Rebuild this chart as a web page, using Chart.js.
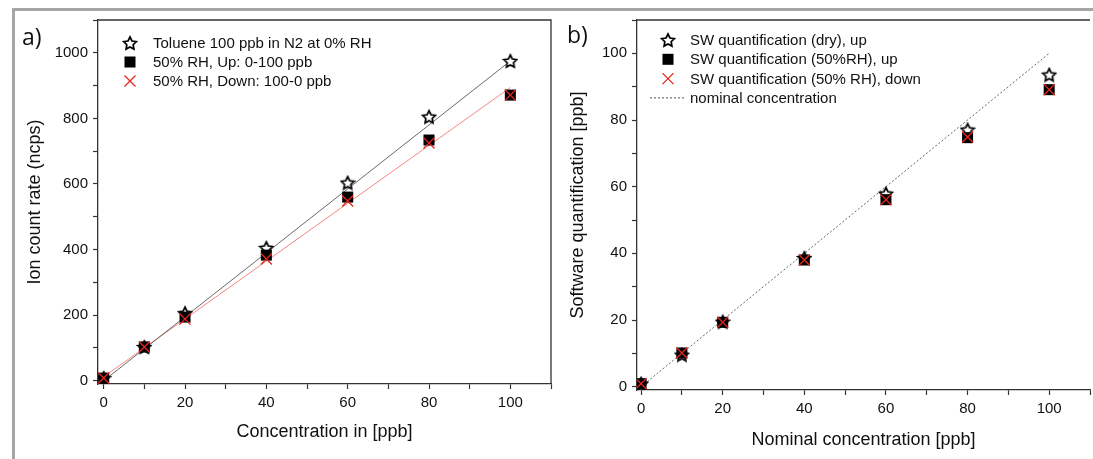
<!DOCTYPE html>
<html>
<head>
<meta charset="utf-8">
<script src="https://cdn.jsdelivr.net/npm/chart.js@4.4.1/dist/chart.umd.min.js"></script>
<style>
body { margin: 0; background: #fff; width: 1093px; height: 459px; overflow: hidden; position: relative; }
canvas { position: absolute; top: 0; }
#chartA { left: 15px; }
#chartB { left: 560px; }
.frame { position: absolute; background: #a6a6a6; }
.tag { position: absolute; font-family: "Open Sans", sans-serif; font-size: 23px; color: #111; line-height: 30px; }
</style>
</head>
<body>
<canvas id="chartA" width="545" height="459"></canvas>
<canvas id="chartB" width="535" height="459"></canvas>
<div class="frame" style="left:12px;top:8px;width:1081px;height:3px"></div>
<div class="frame" style="left:12px;top:8px;width:3px;height:451px"></div>
<div class="tag" style="left:22px;top:21px">a)</div>
<div class="tag" style="left:567px;top:19px">b)</div>
<script>
// a) ion count rate vs concentration
const conc = [0, 10, 20, 40, 60, 80, 100];
const dryRate = [8, 103, 206, 405, 604, 805, 975];
const upRate = [8, 103, 194, 383, 560, 734, 871];
const downRate = [8, 103, 188, 371, 548, 725, 871];
const fitX = [0, 100];
const dryFit = [0, 975];
const wetFit = [12, 894];

// b) software quantification vs nominal
const swDry = [0.9, 9.6, 19.5, 38.6, 57.9, 77.1, 93.6];
const swUp = [0.9, 10.1, 19.3, 38.0, 56.1, 74.7, 89.1];
const swDown = [0.9, 10.1, 19.3, 38.0, 56.1, 74.9, 89.1];
const nominalX = [0, 100];
const nominalY = [0, 100];

// tick positions (labels only on every second one)
const ticksXA = [0, 10, 20, 30, 40, 50, 60, 70, 80, 90, 100, 110];
const ticksYA = [0, 100, 200, 300, 400, 500, 600, 700, 800, 900, 1000, 1100];
const ticksXB = [0, 10, 20, 30, 40, 50, 60, 70, 80, 90, 100, 110];
const ticksYB = [0, 10, 20, 30, 40, 50, 60, 70, 80, 90, 100, 110];

const FONT = '"Liberation Sans", Arial, sans-serif';
const RED = '#e8251f';

function pts(xs, ys) {
  return xs.map((x, i) => ({ x: x, y: ys[i] }));
}

function makeStar(size) {
  const c = document.createElement('canvas');
  c.width = size; c.height = size;
  const g = c.getContext('2d');
  const r = size / 2 - 1.3, ri = r * 0.5, cx = size / 2, cy = size / 2 + 0.7;
  g.beginPath();
  for (let i = 0; i < 10; i++) {
    const a = -Math.PI / 2 + i * Math.PI / 5;
    const rr = i % 2 ? ri : r;
    g.lineTo(cx + rr * Math.cos(a), cy + rr * Math.sin(a));
  }
  g.closePath();
  g.fillStyle = '#fff';
  g.fill();
  g.lineWidth = 1.7;
  g.strokeStyle = '#000';
  g.stroke();
  return c;
}
const star = makeStar(16);

function drawSymbol(ctx, kind, x, y) {
  ctx.save();
  if (kind === 'star') {
    ctx.drawImage(star, x - 8, y - 8);
  } else if (kind === 'square') {
    ctx.fillStyle = '#000';
    ctx.fillRect(x - 5.5, y - 5.5, 11, 11);
  } else if (kind === 'cross') {
    ctx.strokeStyle = RED;
    ctx.lineWidth = 1.3;
    ctx.beginPath();
    ctx.moveTo(x - 5.5, y - 5.5); ctx.lineTo(x + 5.5, y + 5.5);
    ctx.moveTo(x + 5.5, y - 5.5); ctx.lineTo(x - 5.5, y + 5.5);
    ctx.stroke();
  } else if (kind === 'dot') {
    ctx.strokeStyle = '#555';
    ctx.lineWidth = 1;
    ctx.setLineDash([2, 2]);
    ctx.beginPath();
    ctx.moveTo(x - 18, y); ctx.lineTo(x + 16, y);
    ctx.stroke();
  }
  ctx.restore();
}

// legend inside the plot + closing the frame
const boxLegend = {
  id: 'boxLegend',
  afterDraw(chart, args, opts) {
    const ctx = chart.ctx;
    const a = chart.chartArea;
    ctx.save();
    ctx.strokeStyle = '#333';
    ctx.lineWidth = 1.3;
    ctx.beginPath();
    ctx.moveTo(a.left, a.top);
    ctx.lineTo(a.right, a.top);
    if (opts.rightEdge) ctx.lineTo(a.right, a.bottom);
    ctx.stroke();
    ctx.font = '15px ' + FONT;
    ctx.fillStyle = '#111';
    ctx.textBaseline = 'middle';
    opts.items.forEach((it, i) => {
      const y = opts.y0 + i * opts.dy;
      drawSymbol(ctx, it.kind, opts.symX, y);
      ctx.fillText(it.text, opts.textX, y + 1);
    });
    ctx.restore();
  }
};

function axis(min, max, tickVals, every, title, fitSize, horizontal) {
  return {
    type: 'linear',
    min: min,
    max: max,
    afterBuildTicks(scale) {
      scale.ticks = tickVals.map(v => ({ value: v }));
    },
    afterFit(scale) {
      if (horizontal) scale.height = fitSize; else scale.width = fitSize;
    },
    border: { display: true, color: '#333', width: 1.3 },
    grid: { display: true, drawOnChartArea: false, drawTicks: true, tickLength: 5, tickColor: '#333', tickWidth: 1.2 },
    ticks: {
      padding: 5,
      color: '#111',
      font: { family: FONT, size: 15 },
      maxRotation: 0,
      autoSkip: false,
      callback: v => (Math.round(v) % every === 0 ? String(v) : '')
    },
    title: { display: true, text: title, color: '#111', font: { family: FONT, size: 18 }, padding: 0 }
  };
}

function starSet(data) {
  return { label: 'star', data: data, pointStyle: star, pointRadius: 8, pointHoverRadius: 8, showLine: false, order: 3 };
}
function squareSet(data) {
  return { label: 'square', data: data, pointStyle: 'rect', pointRadius: 7.8, pointHoverRadius: 7.8, backgroundColor: '#000', borderColor: '#000', borderWidth: 0, showLine: false, order: 2 };
}
function crossSet(data) {
  return { label: 'cross', data: data, pointStyle: 'crossRot', pointRadius: 7.8, pointHoverRadius: 7.8, borderColor: RED, borderWidth: 1.3, showLine: false, order: 1 };
}
function lineSet(data, color, width, dash) {
  return { label: 'line', data: data, showLine: true, pointRadius: 0, borderColor: color, borderWidth: width, borderDash: dash, order: 4 };
}

new Chart(document.getElementById('chartA'), {
  type: 'scatter',
  data: {
    datasets: [
      lineSet(pts(fitX, dryFit), '#444', 0.8, []),
      lineSet(pts(fitX, wetFit), '#f07a76', 0.9, []),
      starSet(pts(conc, dryRate)),
      squareSet(pts(conc, upRate)),
      crossSet(pts(conc, downRate))
    ]
  },
  options: {
    responsive: false,
    animation: false,
    layout: { autoPadding: false, padding: { top: 20, right: 9, bottom: 16, left: 9 } },
    plugins: {
      legend: { display: false },
      tooltip: { enabled: false },
      boxLegend: {
        rightEdge: true, symX: 115, textX: 138, y0: 43, dy: 19,
        items: [
          { kind: 'star', text: 'Toluene 100 ppb in N2 at 0% RH' },
          { kind: 'square', text: '50% RH, Up: 0-100 ppb' },
          { kind: 'cross', text: '50% RH, Down: 100-0 ppb' }
        ]
      }
    },
    scales: {
      x: axis(-1.4, 110, ticksXA, 20, 'Concentration in [ppb]', 59, true),
      y: axis(-10, 1100, ticksYA, 200, 'Ion count rate (ncps)', 74, false)
    }
  },
  plugins: [boxLegend]
});

new Chart(document.getElementById('chartB'), {
  type: 'scatter',
  data: {
    datasets: [
      lineSet(pts(nominalX, nominalY), '#666', 1, [2, 2]),
      starSet(pts(conc, swDry)),
      squareSet(pts(conc, swUp)),
      crossSet(pts(conc, swDown))
    ]
  },
  options: {
    responsive: false,
    animation: false,
    layout: { autoPadding: false, padding: { top: 20, right: 0, bottom: 8, left: 7 } },
    plugins: {
      legend: { display: false },
      tooltip: { enabled: false },
      boxLegend: {
        rightEdge: false, symX: 108, textX: 130, y0: 40, dy: 19.3,
        items: [
          { kind: 'star', text: 'SW quantification (dry), up' },
          { kind: 'square', text: 'SW quantification (50%RH), up' },
          { kind: 'cross', text: 'SW quantification (50% RH), down' },
          { kind: 'dot', text: 'nominal concentration' }
        ]
      }
    },
    scales: {
      x: axis(-1, 110, ticksXB, 20, 'Nominal concentration [ppb]', 61, true),
      y: axis(-1, 110, ticksYB, 20, 'Software quantification [ppb]', 70, false)
    }
  },
  plugins: [boxLegend]
});
</script>
</body>
</html>
